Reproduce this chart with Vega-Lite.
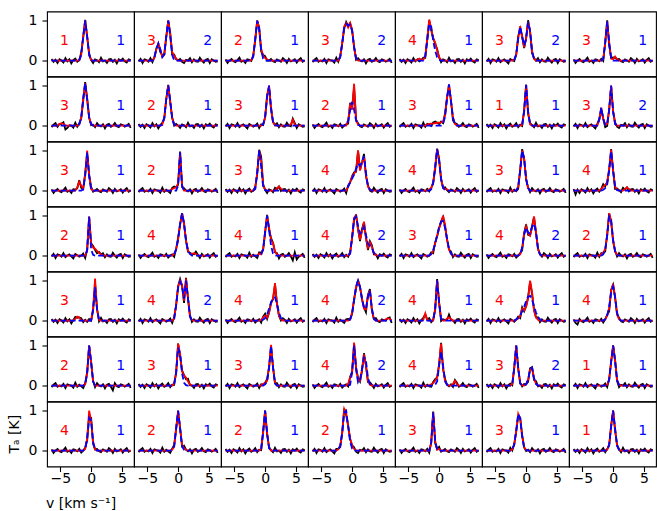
{
  "$schema": "https://vega.github.io/schema/vega-lite/v6.json",
  "padding": {"left": 8, "top": 10.5, "right": 0, "bottom": 0},
  "datasets": {
    "chan": [
      {"i": 1, "v": -6.4}, {"i": 2, "v": -6.08}, {"i": 3, "v": -5.76}, {"i": 4, "v": -5.44}, {"i": 5, "v": -5.12},
      {"i": 6, "v": -4.8}, {"i": 7, "v": -4.48}, {"i": 8, "v": -4.16}, {"i": 9, "v": -3.84}, {"i": 10, "v": -3.52},
      {"i": 11, "v": -3.2}, {"i": 12, "v": -2.88}, {"i": 13, "v": -2.56}, {"i": 14, "v": -2.24}, {"i": 15, "v": -1.92},
      {"i": 16, "v": -1.6}, {"i": 17, "v": -1.28}, {"i": 18, "v": -0.96}, {"i": 19, "v": -0.64}, {"i": 20, "v": -0.32},
      {"i": 21, "v": 0}, {"i": 22, "v": 0.32}, {"i": 23, "v": 0.64}, {"i": 24, "v": 0.96}, {"i": 25, "v": 1.28},
      {"i": 26, "v": 1.6}, {"i": 27, "v": 1.92}, {"i": 28, "v": 2.24}, {"i": 29, "v": 2.56}, {"i": 30, "v": 2.88},
      {"i": 31, "v": 3.2}, {"i": 32, "v": 3.52}, {"i": 33, "v": 3.84}, {"i": 34, "v": 4.16}, {"i": 35, "v": 4.48},
      {"i": 36, "v": 4.8}, {"i": 37, "v": 5.12}, {"i": 38, "v": 5.44}, {"i": 39, "v": 5.76}, {"i": 40, "v": 6.08},
      {"i": 41, "v": 6.4}
    ],
    "spectra": [
      {"row": 1, "col": 1, "nA": 1, "nB": 1,
       "obs": [0.04,-0.03,0.02,-0.06,0.03,0,-0.05,0.06,-0.02,0.03, -0.07,0.01,0.05,-0.03,0.01,0.2,0.57,1.02,0.58,0.18, 0.01,-0.06,0.03,0.01,-0.04,0.07,-0.02,0,-0.06,0.03, 0.04,-0.03,0.02,-0.07,0.03,0,0.05,-0.02,-0.05,0.03, 0.01],
       "fitA": [0,0,0,0,0,0,0,0,0,0, 0,0,0,0,0.01,0.14,0.61,1,0.61,0.14, 0.01,0,0,0,0,0,0,0,0,0, 0,0,0,0,0,0,0,0,0,0, 0],
       "fitB": [0,0,0,0,0,0,0,0,0,0, 0,0,0,0,0.01,0.14,0.61,1,0.61,0.14, 0.01,0,0,0,0,0,0,0,0,0, 0,0,0,0,0,0,0,0,0,0, 0]},
      {"row": 1, "col": 2, "nA": 3, "nB": 2,
       "obs": [-0.02,0.04,-0.06,0.03,0.01,-0.03,0.06,-0.04,0.08,0.31, 0.41,0.21,0.13,0.16,0.58,1,0.7,0.16,0.15,0.03, 0.01,0.04,-0.03,-0.06,0.02,0,0.06,-0.04,0.03,-0.02, -0.03,0.07,0,-0.05,0.02,0.04,-0.06,0.03,0,-0.03, -0.02],
       "fitA": [0,0,0,0,0,0,0,0,0.08,0.28, 0.43,0.28,0.09,0.15,0.61,1,0.65,0.22,0.12,0.05, 0,0,0,0,0,0,0,0,0,0, 0,0,0,0,0,0,0,0,0,0, 0],
       "fitB": [0,0,0,0,0,0,0,0,0.08,0.28, 0.43,0.28,0.09,0.15,0.61,1,0.61,0.14,0.01,0, 0,0,0,0,0,0,0,0,0,0, 0,0,0,0,0,0,0,0,0,0, 0]},
      {"row": 1, "col": 3, "nA": 2, "nB": 1,
       "obs": [0.03,-0.06,0,0.04,-0.02,-0.04,0.01,0.07,-0.03,0, -0.06,0.03,0.02,-0.01,0.14,0.5,1,0.83,0.23,0.14, 0.11,0,0,0.04,-0.02,-0.04,0.03,0,-0.03,0.06, 0.02,-0.06,0.04,-0.02,0,0.03,-0.05,0.02,0.06,-0.03, 0],
       "fitA": [0,0,0,0,0,0,0,0,0,0, 0,0,0,0.01,0.1,0.55,1,0.8,0.3,0.12, 0.06,0.03,0,0,0,0,0,0,0,0, 0,0,0,0,0,0,0,0,0,0, 0],
       "fitB": [0,0,0,0,0,0,0,0,0,0, 0,0,0,0,0.1,0.55,1,0.78,0.26,0.05, 0,0,0,0,0,0,0,0,0,0, 0,0,0,0,0,0,0,0,0,0, 0]},
      {"row": 1, "col": 4, "nA": 3, "nB": 2,
       "obs": [-0.04,0.02,0.06,-0.03,0,-0.02,0.04,-0.06,0.03,0.01, 0,-0.05,0.07,-0.03,0.12,0.43,0.8,0.97,0.87,0.94, 0.75,0.35,0.02,0.06,0,-0.02,0.03,-0.07,0.02,0.04, -0.03,0,0.06,-0.02,-0.04,0.03,0.01,-0.03,0,0.04, -0.06],
       "fitA": [0,0,0,0,0,0,0,0,0,0, 0,0,0,0,0.1,0.45,0.86,0.94,0.83,0.94, 0.78,0.33,0.06,0,0,0,0,0,0,0, 0,0,0,0,0,0,0,0,0,0, 0],
       "fitB": [0,0,0,0,0,0,0,0,0,0, 0,0,0,0,0.08,0.42,0.84,0.92,0.87,0.9, 0.75,0.33,0.06,0.01,0,0,0,0,0,0, 0,0,0,0,0,0,0,0,0,0, 0]},
      {"row": 1, "col": 5, "nA": 4, "nB": 1,
       "obs": [0.04,-0.03,0.02,-0.06,0.03,0,-0.05,0.06,-0.02,0.03, -0.02,0.01,0.07,0.07,0.55,1,0.76,0.57,0.42,0.29, 0.08,-0.04,0.03,0.01,-0.04,0.07,-0.02,0,-0.06,0.03, 0.04,-0.03,0.02,-0.07,0.03,0,0.05,-0.02,-0.05,0.03, 0.01],
       "fitA": [0,0,0,0,0,0,0,0,0,0.02, 0.05,0.02,0.02,0.1,0.55,1.03,0.8,0.55,0.45,0.25, 0.08,0.02,0,0,0,0,0,0,0,0, 0,0,0,0,0,0,0,0,0,0, 0],
       "fitB": [0,0,0,0,0,0,0,0,0,0, 0,0,0,0.12,0.5,0.92,0.85,0.5,0.25,0.08, 0.02,0,0,0,0,0,0,0,0,0, 0,0,0,0,0,0,0,0,0,0, 0]},
      {"row": 1, "col": 6, "nA": 3, "nB": 2,
       "obs": [-0.02,0.04,-0.06,0.03,0.01,-0.03,0.06,-0.04,0,0.03, -0.02,-0.07,0.04,0.01,-0.01,0.15,0.61,0.8,0.61,0.31, 0.56,1.01,0.72,0.18,0.06,0,0.06,-0.04,0.03,-0.02, -0.03,0.07,0,-0.05,0.02,0.04,-0.06,0.03,0,-0.03, -0.02],
       "fitA": [0,0,0,0,0,0,0,0,0,0, 0,0,0,0,0.02,0.15,0.56,0.86,0.58,0.33, 0.55,0.97,0.75,0.24,0.04,0,0,0,0,0, 0,0,0,0,0,0,0,0,0,0, 0],
       "fitB": [0,0,0,0,0,0,0,0,0,0, 0,0,0,0,0.02,0.15,0.55,0.85,0.6,0.38, 0.55,0.96,0.75,0.25,0.04,0,0,0,0,0, 0,0,0,0,0,0,0,0,0,0, 0]},
      {"row": 1, "col": 7, "nA": 3, "nB": 1,
       "obs": [0.03,-0.06,0,0.04,-0.02,-0.04,0.01,0.07,-0.03,0, -0.06,0.03,0.02,-0.02,0.04,-0.01,0.45,1.01,0.38,0.07, 0.08,0.07,0.03,0.04,-0.02,-0.04,0.03,0,-0.03,0.06, 0.02,-0.06,0.04,-0.02,0,0.03,-0.05,0.02,0.06,-0.03, 0],
       "fitA": [0,0,0,0,0,0,0,0,0,0, 0,0,0,0,0,0.04,0.45,0.98,0.45,0.05, 0.03,0.1,0.03,0,0,0,0,0,0,0, 0,0,0,0,0,0,0,0,0,0, 0],
       "fitB": [0,0,0,0,0,0,0,0,0,0, 0,0,0,0,0,0.04,0.45,0.98,0.45,0.05, 0,0,0,0,0,0,0,0,0,0, 0,0,0,0,0,0,0,0,0,0, 0]},
      {"row": 2, "col": 1, "nA": 3, "nB": 1,
       "obs": [-0.04,0.02,0.06,-0.03,0.04,0.04,0.08,-0.1,-0.06,0.01, 0,-0.05,0.07,-0.03,0.05,0.18,0.62,1.09,0.69,0.2, 0.01,0.02,-0.04,0.06,0,-0.02,0.03,-0.07,0.02,0.04, -0.03,0,0.06,-0.02,-0.04,0.03,0.01,-0.03,0,0.04, -0.06],
       "fitA": [0,0,0,0,0.04,0.06,0.04,0,0,0, 0,0,0,0,0.03,0.2,0.68,1.06,0.65,0.2, 0.04,0,0,0,0,0,0,0,0,0, 0,0,0,0,0,0,0,0,0,0, 0],
       "fitB": [0,0,0,0,0,0,0,0,0,0, 0,0,0,0,0.03,0.2,0.68,1.06,0.65,0.2, 0.04,0,0,0,0,0,0,0,0,0, 0,0,0,0,0,0,0,0,0,0, 0]},
      {"row": 2, "col": 2, "nA": 2, "nB": 1,
       "obs": [0.04,-0.03,0.02,-0.06,0.03,0,-0.05,0.06,-0.02,0.03, -0.07,0.01,0.07,0.17,0.66,1.02,0.58,0.2,0,0.04, 0,-0.06,0.03,0.01,-0.04,0.07,-0.02,0,-0.06,0.03, 0.04,-0.03,0.02,-0.07,0.03,0,0.05,-0.02,-0.05,0.03, 0.01],
       "fitA": [0,0,0,0,0,0,0,0,0,0, 0,0,0.02,0.2,0.66,1,0.62,0.18,0.03,0, 0,0,0,0,0,0,0,0,0,0, 0,0,0,0,0,0,0,0,0,0, 0],
       "fitB": [0,0,0,0,0,0,0,0,0,0, 0,0,0.02,0.2,0.66,1,0.62,0.18,0.03,0, 0,0,0,0,0,0,0,0,0,0, 0,0,0,0,0,0,0,0,0,0, 0]},
      {"row": 2, "col": 3, "nA": 3, "nB": 1,
       "obs": [-0.02,0.04,-0.06,0.03,0.01,-0.03,0.06,-0.04,0,0.03, -0.02,-0.07,0.04,0.01,-0.03,0,0.05,-0.06,0.03,0.01, 0.21,0.76,0.97,0.39,0.1,0.01,0.06,-0.04,0.03,-0.02, -0.03,0.07,0,-0.02,0.17,0.06,-0.06,0.03,0,-0.03, -0.02],
       "fitA": [0,0,0,0,0,0,0,0,0,0, 0,0,0,0,0,0,0,0,0,0.03, 0.2,0.72,1,0.45,0.08,0.01,0,0,0,0, 0,0,0,0.03,0.15,0.02,0,0,0,0, 0],
       "fitB": [0,0,0,0,0,0,0,0,0,0, 0,0,0,0,0,0,0,0,0,0.03, 0.2,0.72,1,0.45,0.08,0.01,0,0,0,0, 0,0,0,0,0,0,0,0,0,0, 0]},
      {"row": 2, "col": 4, "nA": 2, "nB": 1,
       "obs": [0.03,-0.06,0,0.04,-0.02,-0.04,0.01,0.07,-0.03,0, -0.06,0.03,0.02,-0.02,0.04,-0.05,0,0.03,0.05,0.57, 0.45,0.95,0.15,0.06,-0.02,-0.04,0.03,0,-0.03,0.06, 0.02,-0.06,0.04,-0.02,0,0.03,-0.05,0.02,0.06,-0.03, 0],
       "fitA": [0,0,0,0,0,0,0,0,0,0, 0,0,0,0,0,0,0,0,0.12,0.55, 0.4,1.05,0.15,0.02,0,0,0,0,0,0, 0,0,0,0,0,0,0,0,0,0, 0],
       "fitB": [0,0,0,0,0,0,0,0,0,0, 0,0,0,0,0,0,0,0.02,0.12,0.38, 0.59,0.4,0.12,0.02,0,0,0,0,0,0, 0,0,0,0,0,0,0,0,0,0, 0]},
      {"row": 2, "col": 5, "nA": 3, "nB": 1,
       "obs": [-0.04,0.02,0.06,-0.03,0,-0.02,0.04,-0.06,0.03,0.01, 0,-0.05,0.07,-0.03,0.04,0.02,-0.01,0.08,0.1,0.07, 0.04,0.1,0.06,0.31,0.7,1.01,0.63,0.13,0.06,0.04, -0.03,0,0.06,-0.02,-0.04,0.03,0.01,-0.03,0,0.04, -0.06],
       "fitA": [0,0,0,0,0,0,0,0,0,0, 0,0,0,0,0.02,0.04,0.05,0.05,0.06,0.07, 0.07,0.08,0.1,0.25,0.7,1.03,0.6,0.2,0.04,0, 0,0,0,0,0,0,0,0,0,0, 0],
       "fitB": [0,0,0,0,0,0,0,0,0,0, 0,0,0,0,0,0,0,0,0,0, 0,0,0.04,0.22,0.68,1.03,0.62,0.2,0.04,0, 0,0,0,0,0,0,0,0,0,0, 0]},
      {"row": 2, "col": 6, "nA": 1, "nB": 1,
       "obs": [0.04,-0.03,0.02,-0.06,0.03,0,-0.05,0.06,-0.02,0.03, -0.07,0.01,0.05,-0.03,0,0.06,-0.04,0.02,-0.01,0.39, 1.02,0.29,0.06,0.01,-0.04,0.07,-0.02,0,-0.06,0.03, 0.04,-0.03,0.02,-0.07,0.03,0,0.05,-0.02,-0.05,0.03, 0.01],
       "fitA": [0,0,0,0,0,0,0,0,0,0, 0,0,0,0,0,0,0,0,0.02,0.35, 1.02,0.35,0.03,0,0,0,0,0,0,0, 0,0,0,0,0,0,0,0,0,0, 0],
       "fitB": [0,0,0,0,0,0,0,0,0,0, 0,0,0,0,0,0,0,0,0.02,0.35, 1.02,0.35,0.03,0,0,0,0,0,0,0, 0,0,0,0,0,0,0,0,0,0, 0]},
      {"row": 2, "col": 7, "nA": 3, "nB": 2,
       "obs": [-0.02,0.04,-0.06,0.03,0.01,-0.03,0.06,-0.04,0,0.03, -0.02,-0.07,0.04,0.16,0.42,0.17,-0.04,-0.01,0.41,0.98, 0.36,0.08,-0.03,-0.06,0.02,0,0.06,-0.04,0.03,-0.02, -0.03,0.07,0,-0.05,0.02,0.04,-0.06,0.03,0,-0.03, -0.02],
       "fitA": [0,0,0,0,0,0,0,0,0,0, 0,0,0,0.15,0.45,0.17,0.03,0.05,0.38,1, 0.35,0.04,0,0,0,0,0,0,0,0, 0,0,0,0,0,0,0,0,0,0, 0],
       "fitB": [0,0,0,0,0,0,0,0,0,0, 0,0,0,0.15,0.45,0.17,0.02,0.04,0.38,1, 0.35,0.04,0,0,0,0,0,0,0,0, 0,0,0,0,0,0,0,0,0,0, 0]},
      {"row": 3, "col": 1, "nA": 3, "nB": 1,
       "obs": [0.03,-0.06,0,0.04,-0.02,-0.04,0.01,0.07,-0.03,0, -0.06,0.03,0.02,0.06,0.26,0.07,0.05,0.43,0.93,0.4, 0.09,-0.03,0,0.04,-0.02,-0.04,0.03,0,-0.03,0.06, 0.02,-0.06,0.04,-0.02,0,0.03,-0.05,0.02,0.06,-0.03, 0],
       "fitA": [0,0,0,0,0,0,0,0,0,0, 0,0,0,0.08,0.22,0.12,0.05,0.4,1,0.38, 0.04,0,0,0,0,0,0,0,0,0, 0,0,0,0,0,0,0,0,0,0, 0],
       "fitB": [0,0,0,0,0,0,0,0,0,0, 0,0,0,0,0,0,0.03,0.37,0.95,0.36, 0.03,0,0,0,0,0,0,0,0,0, 0,0,0,0,0,0,0,0,0,0, 0]},
      {"row": 3, "col": 2, "nA": 2, "nB": 1,
       "obs": [-0.04,0.02,0.06,-0.03,0,-0.02,0.04,-0.06,0.03,0.01, 0,-0.05,0.07,-0.03,0.02,-0.02,-0.06,0.07,0.1,0.08, 0.15,0.98,0.09,0.06,0,-0.02,0.03,-0.07,0.02,0.04, -0.03,0,0.06,-0.02,-0.04,0.03,0.01,-0.03,0,0.04, -0.06],
       "fitA": [0,0,0,0,0,0,0,0,0,0, 0,0,0,0,0,0,0,0.04,0.06,0.08, 0.18,0.96,0.13,0,0,0,0,0,0,0, 0,0,0,0,0,0,0,0,0,0, 0],
       "fitB": [0,0,0,0,0,0,0,0,0,0, 0,0,0,0,0,0,0,0,0,0, 0.12,0.96,0.12,0,0,0,0,0,0,0, 0,0,0,0,0,0,0,0,0,0, 0]},
      {"row": 3, "col": 3, "nA": 3, "nB": 1,
       "obs": [0.04,-0.03,0.02,-0.06,0.03,0,-0.05,0.06,-0.02,0.03, -0.07,0.01,0.05,-0.03,0,0.1,0.41,1.02,0.85,0.16, 0.02,-0.06,0.03,0.01,-0.04,0.07,0.04,0.1,-0.01,0.03, 0.04,-0.03,0.02,-0.07,0.03,0,0.05,-0.02,-0.05,0.03, 0.01],
       "fitA": [0,0,0,0,0,0,0,0,0,0, 0,0,0,0,0,0.04,0.45,1,0.75,0.12, 0.02,0,0,0,0,0,0.06,0.1,0.05,0, 0,0,0,0,0,0,0,0,0,0, 0],
       "fitB": [0,0,0,0,0,0,0,0,0,0, 0,0,0,0,0,0.04,0.45,1,0.6,0.08, 0.01,0,0,0,0,0,0,0,0,0, 0,0,0,0,0,0,0,0,0,0, 0]},
      {"row": 3, "col": 4, "nA": 4, "nB": 2,
       "obs": [-0.02,0.04,-0.06,0.03,0.01,-0.03,0.06,-0.04,0,0.03, -0.02,-0.07,0.04,0.01,-0.03,0,0.05,-0.06,0.13,0.2, 0.36,0.46,0.47,1,0.52,0.7,0.92,0.36,0.13,0, -0.03,0.07,0,-0.05,0.02,0.04,-0.06,0.03,0,-0.03, -0.02],
       "fitA": [0,0,0,0,0,0,0,0,0,0, 0,0,0,0,0,0,0,0,0.1,0.22, 0.35,0.42,0.5,1,0.5,0.7,0.86,0.4,0.1,0.02, 0,0,0,0,0,0,0,0,0,0, 0],
       "fitB": [0,0,0,0,0,0,0,0,0,0, 0,0,0,0,0,0,0,0.03,0.1,0.2, 0.3,0.4,0.55,0.68,0.62,0.72,0.86,0.45,0.12,0.03, 0,0,0,0,0,0,0,0,0,0, 0]},
      {"row": 3, "col": 5, "nA": 4, "nB": 1,
       "obs": [0.03,-0.06,0,0.04,-0.02,-0.04,0.01,0.07,-0.03,0, -0.06,0.03,0.02,-0.02,0.04,-0.02,0.06,0.21,0.53,1.05, 0.8,0.27,0.07,0.08,0.01,-0.04,0.03,0,-0.03,0.06, 0.02,-0.06,0.04,-0.02,0,0.03,-0.05,0.02,0.06,-0.03, 0],
       "fitA": [0,0,0,0,0,0,0,0,0,0, 0,0,0,0,0,0.03,0.06,0.18,0.6,1.03, 0.75,0.3,0.07,0.04,0.03,0,0,0,0,0, 0,0,0,0,0,0,0,0,0,0, 0],
       "fitB": [0,0,0,0,0,0,0,0,0,0, 0,0,0,0,0,0,0.03,0.18,0.6,1.03, 0.75,0.3,0.07,0.01,0,0,0,0,0,0, 0,0,0,0,0,0,0,0,0,0, 0]},
      {"row": 3, "col": 6, "nA": 3, "nB": 1,
       "obs": [-0.04,0.02,0.06,-0.03,0,-0.02,0.04,-0.06,0.03,0.01, 0,-0.05,0.07,-0.03,0.02,-0.02,0.04,0.53,1.04,0.8, 0.27,0.08,-0.04,0.06,0,-0.02,0.03,-0.07,0.02,0.04, -0.03,0,0.06,-0.02,-0.04,0.03,0.01,-0.03,0,0.04, -0.06],
       "fitA": [0,0,0,0,0,0,0,0,0,0, 0,0,0,0,0,0,0.1,0.5,1,0.8, 0.3,0.06,0,0,0,0,0,0,0,0, 0,0,0,0,0,0,0,0,0,0, 0],
       "fitB": [0,0,0,0,0,0,0,0,0,0, 0,0,0,0,0,0,0.1,0.5,1,0.8, 0.3,0.06,0,0,0,0,0,0,0,0, 0,0,0,0,0,0,0,0,0,0, 0]},
      {"row": 3, "col": 7, "nA": 4, "nB": 1,
       "obs": [0.04,-0.1,0.02,-0.06,0.03,0,-0.05,0.06,-0.02,0.03, -0.07,0.01,0.05,-0.03,0.04,0.16,0.1,0.22,0.52,1.04, 0.5,0.04,0.05,0.01,-0.04,0.07,0.02,0.08,-0.02,0.03, 0.04,-0.03,0.02,-0.07,0.03,0,0.05,-0.02,-0.05,0.03, 0.01],
       "fitA": [0,0,0,0,0,0,0,0,0,0, 0,0,0,0,0.04,0.1,0.14,0.2,0.55,1.02, 0.5,0.1,0.02,0,0,0,0.04,0.08,0.04,0, 0,0,0,0,0,0,0,0,0,0, 0],
       "fitB": [0,0,0,0,0,0,0,0,0,0, 0,0,0,0,0,0.02,0.06,0.15,0.5,0.98, 0.5,0.1,0.01,0,0,0,0,0,0,0, 0,0,0,0,0,0,0,0,0,0, 0]},
      {"row": 4, "col": 1, "nA": 2, "nB": 1,
       "obs": [-0.02,0.04,-0.06,0.03,0.01,-0.03,0.06,-0.04,0,0.03, -0.02,-0.07,0.04,0.01,-0.03,0,0.05,-0.06,0.15,0.96, 0.31,0.24,0.14,0.06,0.09,0.03,0.06,-0.04,0.03,-0.02, -0.03,0.07,0,-0.05,0.02,0.04,-0.06,0.03,0,-0.03, -0.02],
       "fitA": [0,0,0,0,0,0,0,0,0,0, 0,0,0,0,0,0,0,0,0.12,0.98, 0.3,0.2,0.17,0.12,0.07,0.03,0,0,0,0, 0,0,0,0,0,0,0,0,0,0, 0],
       "fitB": [0,0,0,0,0,0,0,0,0,0, 0,0,0,0,0,0,0,0,0.13,0.98, 0.15,0.02,0,0,0,0,0,0,0,0, 0,0,0,0,0,0,0,0,0,0, 0]},
      {"row": 4, "col": 2, "nA": 4, "nB": 1,
       "obs": [0.03,-0.06,0,0.04,-0.02,-0.04,0.01,0.07,-0.03,0, -0.06,0.03,0.02,-0.02,0.04,-0.05,0,0.03,-0.03,0.17, 0.45,0.77,1.06,0.82,0.36,0.09,0.07,0.04,0.03,0.1, 0.02,-0.06,0.04,-0.02,0,0.03,-0.05,0.02,0.06,-0.03, 0],
       "fitA": [0,0,0,0,0,0,0,0,0,0, 0,0,0,0,0,0,0,0,0.04,0.15, 0.4,0.8,1.06,0.78,0.38,0.13,0.04,0.04,0.06,0.04, 0,0,0,0,0,0,0,0,0,0, 0],
       "fitB": [0,0,0,0,0,0,0,0,0,0, 0,0,0,0,0,0,0,0,0.04,0.15, 0.4,0.8,1.06,0.78,0.38,0.13,0.04,0,0,0, 0,0,0,0,0,0,0,0,0,0, 0]},
      {"row": 4, "col": 3, "nA": 4, "nB": 1,
       "obs": [-0.04,0.02,0.06,-0.03,0,-0.02,0.04,-0.06,0.03,0.01, 0,-0.05,0.07,-0.03,0.02,-0.02,-0.06,0.08,0.07,0.15, 0.57,1.02,0.66,0.44,0.32,0.08,0.06,-0.07,0.02,0.04, -0.03,0,0.06,-0.02,-0.12,0.08,-0.1,-0.03,0,0.04, -0.06],
       "fitA": [0,0,0,0,0,0,0,0,0,0, 0,0,0,0,0,0,0,0.05,0.03,0.15, 0.6,1,0.7,0.38,0.32,0.1,0.03,0,0,0, 0,0,0,0,0,0,0,0,0,0, 0],
       "fitB": [0,0,0,0,0,0,0,0,0,0, 0,0,0,0,0,0,0,0,0.02,0.15, 0.6,1,0.65,0.25,0.05,0,0,0,0,0, 0,0,0,0,0,0,0,0,0,0, 0]},
      {"row": 4, "col": 4, "nA": 4, "nB": 2,
       "obs": [0.04,-0.03,0.02,-0.06,0.03,0,-0.05,0.06,-0.02,0.03, -0.07,0.01,0.05,-0.03,0,0.06,-0.04,0.02,-0.03,0.09, 0.45,0.89,1.03,0.66,0.36,0.67,0.83,0.45,0.14,0.36, 0.26,0.03,0.03,-0.07,0.03,0,0.05,-0.02,-0.05,0.03, 0.01],
       "fitA": [0,0,0,0,0,0,0,0,0,0, 0,0,0,0,0,0,0,0,0,0.05, 0.45,0.95,1,0.65,0.4,0.6,0.85,0.45,0.2,0.33, 0.22,0.06,0.01,0,0,0,0,0,0,0, 0],
       "fitB": [0,0,0,0,0,0,0,0,0,0, 0,0,0,0,0,0,0,0,0,0.05, 0.45,0.92,0.98,0.75,0.55,0.6,0.72,0.52,0.3,0.25, 0.18,0.07,0.02,0,0,0,0,0,0,0, 0]},
      {"row": 4, "col": 5, "nA": 3, "nB": 1,
       "obs": [-0.02,0.04,-0.06,0.03,0.01,-0.03,0.06,-0.04,0,0.03, -0.02,-0.07,0.04,0.01,-0.03,0,0.08,0.06,0.33,0.48, 0.69,0.86,0.97,0.72,0.42,0.15,0.1,-0.04,0.03,-0.02, -0.03,0.07,0,-0.05,0.02,0.04,-0.06,0.03,0,-0.03, -0.02],
       "fitA": [0,0,0,0,0,0,0,0,0,0, 0,0,0,0,0,0,0.03,0.12,0.3,0.5, 0.68,0.82,1,0.78,0.4,0.15,0.04,0,0,0, 0,0,0,0,0,0,0,0,0,0, 0],
       "fitB": [0,0,0,0,0,0,0,0,0,0, 0,0,0,0,0,0,0.04,0.13,0.3,0.52, 0.72,0.85,0.87,0.7,0.42,0.17,0.05,0,0,0, 0,0,0,0,0,0,0,0,0,0, 0]},
      {"row": 4, "col": 6, "nA": 4, "nB": 2,
       "obs": [0.03,-0.06,0,0.04,-0.02,-0.04,0.01,0.07,-0.03,0, -0.06,0.03,0.02,-0.02,0.04,-0.05,0,0.06,0.13,0.57, 0.78,0.52,0.5,0.74,0.96,0.56,0.18,0.03,-0.03,0.06, 0.02,-0.06,0.04,-0.02,0,0.03,-0.05,0.02,0.06,-0.03, 0],
       "fitA": [0,0,0,0,0,0,0,0,0,0, 0,0,0,0,0,0,0,0.03,0.2,0.55, 0.73,0.55,0.5,0.7,0.98,0.6,0.15,0.03,0,0, 0,0,0,0,0,0,0,0,0,0, 0],
       "fitB": [0,0,0,0,0,0,0,0,0,0, 0,0,0,0,0,0,0,0.03,0.2,0.52, 0.7,0.58,0.55,0.72,0.8,0.58,0.18,0.03,0,0, 0,0,0,0,0,0,0,0,0,0, 0]},
      {"row": 4, "col": 7, "nA": 2, "nB": 1,
       "obs": [-0.04,0.02,0.06,-0.03,0,-0.02,0.04,-0.06,0.03,0.01, 0,-0.05,0.07,-0.03,0.06,0.06,0.1,0.53,1.06,0.85, 0.35,0.12,-0.02,0.06,0,-0.02,0.03,-0.07,0.02,0.04, -0.03,0,0.06,-0.02,-0.04,0.03,0.01,-0.03,0,0.04, -0.06],
       "fitA": [0,0,0,0,0,0,0,0,0,0, 0,0,0,0,0.04,0.08,0.16,0.5,1.06,0.85, 0.38,0.1,0.02,0,0,0,0,0,0,0, 0,0,0,0,0,0,0,0,0,0, 0],
       "fitB": [0,0,0,0,0,0,0,0,0,0, 0,0,0,0,0,0.03,0.15,0.5,0.98,0.9, 0.4,0.1,0.02,0,0,0,0,0,0,0, 0,0,0,0,0,0,0,0,0,0, 0]},
      {"row": 5, "col": 1, "nA": 3, "nB": 1,
       "obs": [0.04,-0.03,0.02,-0.06,0.03,0,-0.05,0.06,-0.02,0.03, -0.07,0.01,0.09,0.07,0.08,0.06,-0.04,0.02,-0.03,0.04, 0,0.24,0.92,0.29,-0.02,0.07,-0.02,0,-0.06,0.03, 0.04,-0.03,0.02,-0.07,0.03,0,0.05,-0.02,-0.05,0.03, 0.01],
       "fitA": [0,0,0,0,0,0,0,0,0,0, 0,0,0.04,0.1,0.08,0,0,0,0,0, 0,0.3,1.05,0.28,0.02,0,0,0,0,0, 0,0,0,0,0,0,0,0,0,0, 0],
       "fitB": [0,0,0,0,0,0,0,0,0,0, 0,0,0,0,0,0,0,0,0,0, 0,0.28,0.83,0.27,0.02,0,0,0,0,0, 0,0,0,0,0,0,0,0,0,0, 0]},
      {"row": 5, "col": 2, "nA": 4, "nB": 2,
       "obs": [-0.02,0.04,-0.06,0.03,0.01,-0.03,0.06,-0.04,0,0.03, -0.02,-0.07,0.04,0.01,-0.03,0,0.05,-0.06,0.08,0.38, 0.86,1.04,0.87,0.44,1.07,0.55,0.14,-0.03,0.03,-0.02, -0.03,0.07,0,-0.05,0.02,0.04,-0.06,0.03,0,-0.03, -0.02],
       "fitA": [0,0,0,0,0,0,0,0,0,0, 0,0,0,0,0,0,0,0,0.05,0.4, 0.85,1,0.9,0.5,1.05,0.55,0.08,0.01,0,0, 0,0,0,0,0,0,0,0,0,0, 0],
       "fitB": [0,0,0,0,0,0,0,0,0,0, 0,0,0,0,0,0,0,0,0.05,0.38, 0.82,0.98,0.85,0.55,1,0.55,0.1,0.01,0,0, 0,0,0,0,0,0,0,0,0,0, 0]},
      {"row": 5, "col": 3, "nA": 4, "nB": 1,
       "obs": [0.03,-0.06,0,0.04,-0.02,-0.04,0.01,0.07,-0.03,0, -0.06,0.03,0.02,-0.02,0.04,-0.05,0,0.03,-0.05,0.1, 0.17,0.04,0.2,0.46,0.53,0.9,0.43,0.12,0,0.06, 0.02,-0.06,0.04,-0.02,0,0.03,-0.05,0.02,0.06,-0.03, 0],
       "fitA": [0,0,0,0,0,0,0,0,0,0, 0,0,0,0,0,0,0,0,0.02,0.08, 0.12,0.07,0.2,0.42,0.55,0.94,0.4,0.12,0.03,0, 0,0,0,0,0,0,0,0,0,0, 0],
       "fitB": [0,0,0,0,0,0,0,0,0,0, 0,0,0,0,0,0,0,0,0,0.02, 0.06,0.15,0.3,0.45,0.56,0.58,0.42,0.2,0.06,0.01, 0,0,0,0,0,0,0,0,0,0, 0]},
      {"row": 5, "col": 4, "nA": 4, "nB": 2,
       "obs": [-0.04,0.02,0.06,-0.03,0,-0.02,0.04,-0.06,0.03,0.01, 0,-0.05,0.07,-0.03,0.02,-0.02,-0.06,0.03,0.04,0.03, 0.17,0.54,0.81,1.02,0.83,0.53,0.33,0.21,0.64,0.79, 0.25,0.04,0.06,-0.02,-0.04,0.03,0.01,0,0.06,0.08, -0.06],
       "fitA": [0,0,0,0,0,0,0,0,0,0, 0,0,0,0,0,0,0,0,0,0.03, 0.2,0.52,0.85,1,0.83,0.55,0.3,0.28,0.62,0.75, 0.28,0.04,0,0,0,0,0,0.03,0.06,0.04, 0],
       "fitB": [0,0,0,0,0,0,0,0,0,0, 0,0,0,0,0,0,0,0,0,0.03, 0.18,0.5,0.85,1,0.85,0.55,0.32,0.3,0.6,0.75, 0.3,0.05,0,0,0,0,0,0,0,0, 0]},
      {"row": 5, "col": 5, "nA": 4, "nB": 1,
       "obs": [0.04,-0.03,0.02,-0.06,0.03,0,-0.05,0.06,-0.02,0.03, -0.07,0.01,0.07,0.15,0.02,0.06,-0.04,0.02,0.27,1.04, 0.45,-0.01,0.03,0.01,0.01,0.15,0.02,0,-0.06,0.03, 0.04,-0.03,0.02,-0.07,0.03,0,0.05,-0.02,-0.05,0.03, 0.01],
       "fitA": [0,0,0,0,0,0,0,0,0,0, 0,0,0.02,0.18,0.02,0,0,0,0.3,1, 0.45,0.05,0,0,0.05,0.08,0.04,0,0,0, 0,0,0,0,0,0,0,0,0,0, 0],
       "fitB": [0,0,0,0,0,0,0,0,0,0, 0,0,0,0,0,0,0,0,0.3,1, 0.45,0.05,0,0,0,0,0,0,0,0, 0,0,0,0,0,0,0,0,0,0, 0]},
      {"row": 5, "col": 6, "nA": 4, "nB": 1,
       "obs": [-0.02,0.04,-0.06,0.03,0.01,-0.03,0.06,-0.04,0,0.03, -0.02,-0.07,0.04,0.01,-0.03,0.02,0.1,0.06,0.33,0.23, 0.36,0.59,0.97,0.66,0.27,0.08,0.08,-0.04,0.03,-0.02, -0.03,0.07,0,-0.05,0.02,0.04,-0.06,0.03,0,-0.03, -0.02],
       "fitA": [0,0,0,0,0,0,0,0,0,0, 0,0,0,0,0,0.02,0.05,0.12,0.3,0.25, 0.35,0.55,1,0.72,0.25,0.08,0.02,0,0,0, 0,0,0,0,0,0,0,0,0,0, 0],
       "fitB": [0,0,0,0,0,0,0,0,0,0, 0,0,0,0,0,0.03,0.07,0.13,0.23,0.35, 0.48,0.6,0.62,0.52,0.36,0.2,0.09,0.03,0,0, 0,0,0,0,0,0,0,0,0,0, 0]},
      {"row": 5, "col": 7, "nA": 4, "nB": 1,
       "obs": [0.03,-0.06,-0.1,0.04,-0.02,-0.04,0.01,0.07,-0.03,0, -0.06,0.03,0.02,-0.02,0.04,-0.05,0.03,0.15,0.23,0.77, 0.9,0.57,0.15,0.07,-0.02,-0.04,0.03,0,-0.03,0.06, 0.02,-0.06,0.04,-0.02,0,0.03,-0.05,0.02,0.06,-0.03, 0],
       "fitA": [0,0,0,0,0,0,0,0,0,0, 0,0,0,0,0,0,0.03,0.12,0.3,0.75, 0.92,0.6,0.15,0.03,0,0,0,0,0,0, 0,0,0,0,0,0,0,0,0,0, 0],
       "fitB": [0,0,0,0,0,0,0,0,0,0, 0,0,0,0,0,0,0.03,0.12,0.35,0.7, 0.85,0.6,0.2,0.04,0,0,0,0,0,0, 0,0,0,0,0,0,0,0,0,0, 0]},
      {"row": 6, "col": 1, "nA": 2, "nB": 1,
       "obs": [-0.04,0.02,0.06,-0.03,0,-0.02,0.04,-0.06,0.03,0.01, 0,-0.05,0.07,-0.03,0.02,-0.02,-0.06,0.06,0.34,1, 0.57,0.12,-0.04,0.06,0,-0.02,0.03,-0.07,0.02,0.04, -0.03,-0.12,0.06,-0.02,-0.04,0.03,0.01,-0.03,0,0.04, -0.06],
       "fitA": [0,0,0,0,0,0,0,0,0,0, 0,0,0,0,0,0,0,0.03,0.3,1, 0.6,0.1,0,0,0,0,0,0,0,0, 0,0,0,0,0,0,0,0,0,0, 0],
       "fitB": [0,0,0,0,0,0,0,0,0,0, 0,0,0,0,0,0,0,0.03,0.3,1, 0.6,0.1,0,0,0,0,0,0,0,0, 0,0,0,0,0,0,0,0,0,0, 0]},
      {"row": 6, "col": 2, "nA": 3, "nB": 1,
       "obs": [0.04,-0.03,0.02,-0.06,0.03,0,-0.05,0.06,-0.02,0.03, -0.07,0.01,0.05,-0.03,0,0.06,-0.04,0.02,0.02,0.34, 1.05,0.74,0.38,0.26,0.16,0.17,0.01,0,-0.06,0.03, 0.04,-0.03,0.02,-0.07,0.03,0,0.05,-0.02,-0.05,0.03, 0.01],
       "fitA": [0,0,0,0,0,0,0,0,0,0, 0,0,0,0,0,0,0,0,0.05,0.3, 1.05,0.8,0.35,0.25,0.2,0.1,0.03,0,0,0, 0,0,0,0,0,0,0,0,0,0, 0],
       "fitB": [0,0,0,0,0,0,0,0,0,0, 0,0,0,0,0,0,0,0,0.05,0.32, 0.95,0.8,0.3,0.07,0.01,0,0,0,0,0, 0,0,0,0,0,0,0,0,0,0, 0]},
      {"row": 6, "col": 3, "nA": 3, "nB": 1,
       "obs": [-0.02,0.04,-0.06,0.03,0.01,-0.03,0.06,-0.04,0,0.03, -0.02,-0.07,0.04,0.01,-0.03,0,0.05,-0.06,0.03,0.02, 0.07,0.16,0.45,0.96,0.47,0.06,0.06,-0.04,0.03,-0.02, -0.03,0.07,0,-0.05,0.02,0.04,-0.06,0.03,0,-0.03, -0.02],
       "fitA": [0,0,0,0,0,0,0,0,0,0, 0,0,0,0,0,0,0,0,0,0.04, 0.06,0.12,0.48,1.02,0.45,0.06,0,0,0,0, 0,0,0,0,0,0,0,0,0,0, 0],
       "fitB": [0,0,0,0,0,0,0,0,0,0, 0,0,0,0,0,0,0,0,0,0, 0.03,0.1,0.45,1,0.45,0.05,0,0,0,0, 0,0,0,0,0,0,0,0,0,0, 0]},
      {"row": 6, "col": 4, "nA": 4, "nB": 2,
       "obs": [0.03,-0.06,0,0.04,-0.02,-0.04,0.01,0.07,-0.03,0, -0.06,0.03,0.02,-0.02,0.04,-0.05,0,0.03,-0.02,0.22, 0.35,1.05,0.45,0.19,0.1,0.36,0.81,0.5,0.09,0.08, 0.02,-0.06,0.04,-0.02,0,0.03,-0.05,0.02,0.06,-0.03, 0],
       "fitA": [0,0,0,0,0,0,0,0,0,0, 0,0,0,0,0,0,0,0,0.05,0.2, 0.3,1.08,0.45,0.15,0.12,0.4,0.78,0.5,0.12,0.02, 0,0,0,0,0,0,0,0,0,0, 0],
       "fitB": [0,0,0,0,0,0,0,0,0,0, 0,0,0,0,0,0,0,0,0,0.02, 0.35,1,0.4,0.08,0.15,0.42,0.7,0.62,0.2,0.04, 0,0,0,0,0,0,0,0,0,0, 0]},
      {"row": 6, "col": 5, "nA": 4, "nB": 1,
       "obs": [-0.04,0.02,0.06,-0.03,0,-0.02,0.04,-0.06,0.03,0.01, 0,-0.05,0.07,-0.03,0.02,-0.02,-0.03,0.09,0.16,0.2, 0.52,1.07,0.41,0.16,0.02,-0.02,0.03,-0.03,0.14,0.07, -0.03,0,0.06,-0.02,-0.04,0.03,0.01,-0.03,0,0.04, -0.06],
       "fitA": [0,0,0,0,0,0,0,0,0,0, 0,0,0,0,0,0,0.03,0.06,0.12,0.2, 0.55,1.05,0.45,0.1,0.02,0,0,0.04,0.12,0.03, 0,0,0,0,0,0,0,0,0,0, 0],
       "fitB": [0,0,0,0,0,0,0,0,0,0, 0,0,0,0,0,0,0,0,0.02,0.1, 0.5,0.85,0.5,0.12,0.02,0,0,0,0,0, 0,0,0,0,0,0,0,0,0,0, 0]},
      {"row": 6, "col": 6, "nA": 3, "nB": 2,
       "obs": [0.04,-0.03,0.02,-0.06,0.03,0,-0.05,0.06,-0.02,0.03, -0.07,0.01,0.05,0.01,0.45,1,0.41,0.07,-0.02,0.04, 0.03,0.09,0.43,0.46,0.14,0.11,-0.02,0,-0.06,0.03, 0.04,-0.03,0.02,-0.07,0.03,0,0.05,-0.02,-0.05,0.03, 0.01],
       "fitA": [0,0,0,0,0,0,0,0,0,0, 0,0,0,0.04,0.45,1,0.45,0.05,0.01,0, 0.03,0.15,0.4,0.45,0.18,0.04,0,0,0,0, 0,0,0,0,0,0,0,0,0,0, 0],
       "fitB": [0,0,0,0,0,0,0,0,0,0, 0,0,0,0.04,0.45,1,0.45,0.05,0.01,0, 0.03,0.15,0.4,0.45,0.18,0.04,0,0,0,0, 0,0,0,0,0,0,0,0,0,0, 0]},
      {"row": 6, "col": 7, "nA": 1, "nB": 1,
       "obs": [-0.02,0.04,-0.06,0.03,0.01,-0.03,0.06,-0.04,0,0.03, -0.02,-0.07,0.04,0.01,-0.03,0,0.05,-0.04,0.17,0.59, 1.01,0.65,0.11,-0.04,0.02,0,0.06,-0.04,0.03,-0.02, -0.03,0.07,0,-0.05,0.02,0.04,-0.06,0.03,0,-0.03, -0.02],
       "fitA": [0,0,0,0,0,0,0,0,0,0, 0,0,0,0,0,0,0,0.02,0.14,0.61, 1,0.61,0.14,0.02,0,0,0,0,0,0, 0,0,0,0,0,0,0,0,0,0, 0],
       "fitB": [0,0,0,0,0,0,0,0,0,0, 0,0,0,0,0,0,0,0.02,0.14,0.61, 1,0.61,0.14,0.02,0,0,0,0,0,0, 0,0,0,0,0,0,0,0,0,0, 0]},
      {"row": 7, "col": 1, "nA": 4, "nB": 1,
       "obs": [0.03,-0.06,0,0.04,-0.02,-0.04,0.01,0.07,-0.03,0, -0.06,0.03,0.02,-0.02,0.04,-0.05,0,0.07,0.25,0.85, 0.82,0.17,0.03,0.04,-0.02,-0.04,0.03,0,-0.03,0.06, 0.02,-0.06,0.04,-0.02,0,0.03,-0.05,0.02,0.06,-0.03, 0],
       "fitA": [0,0,0,0,0,0,0,0,0,0, 0,0,0,0,0,0,0,0.04,0.3,1, 0.75,0.2,0.03,0,0,0,0,0,0,0, 0,0,0,0,0,0,0,0,0,0, 0],
       "fitB": [0,0,0,0,0,0,0,0,0,0, 0,0,0,0,0,0,0,0.04,0.32,0.82, 0.75,0.22,0.03,0,0,0,0,0,0,0, 0,0,0,0,0,0,0,0,0,0, 0]},
      {"row": 7, "col": 2, "nA": 2, "nB": 1,
       "obs": [-0.04,0.02,0.06,-0.03,0,-0.02,0.04,-0.06,0.03,0.01, 0,-0.05,0.07,-0.03,0.02,-0.02,-0.06,0.05,0.14,0.55, 0.97,0.57,0.1,0.12,0.02,-0.02,0.03,-0.07,0.02,0.04, -0.03,0,0.06,-0.02,-0.04,0.03,0.01,-0.03,0,0.04, -0.06],
       "fitA": [0,0,0,0,0,0,0,0,0,0, 0,0,0,0,0,0,0,0.02,0.1,0.55, 1,0.55,0.14,0.06,0.02,0,0,0,0,0, 0,0,0,0,0,0,0,0,0,0, 0],
       "fitB": [0,0,0,0,0,0,0,0,0,0, 0,0,0,0,0,0,0,0.02,0.1,0.55, 1,0.55,0.1,0.02,0,0,0,0,0,0, 0,0,0,0,0,0,0,0,0,0, 0]},
      {"row": 7, "col": 3, "nA": 2, "nB": 1,
       "obs": [0.04,-0.03,0.02,-0.06,0.03,0,-0.05,0.06,-0.02,0.03, -0.07,0.01,0.05,-0.03,0,0.06,-0.04,0.02,0.01,0.49, 1,0.39,0.09,0.01,-0.04,0.07,-0.02,0,-0.06,0.03, 0.04,-0.03,0.02,-0.07,0.03,0,0.05,-0.02,-0.05,0.03, 0.01],
       "fitA": [0,0,0,0,0,0,0,0,0,0, 0,0,0,0,0,0,0,0,0.04,0.45, 1,0.45,0.06,0,0,0,0,0,0,0, 0,0,0,0,0,0,0,0,0,0, 0],
       "fitB": [0,0,0,0,0,0,0,0,0,0, 0,0,0,0,0,0,0,0,0.04,0.45, 1,0.45,0.06,0,0,0,0,0,0,0, 0,0,0,0,0,0,0,0,0,0, 0]},
      {"row": 7, "col": 4, "nA": 2, "nB": 1,
       "obs": [-0.02,0.04,-0.06,0.03,0.01,-0.03,0.06,-0.04,0,0.03, -0.02,-0.07,0.04,0.04,0.09,0.45,1.05,0.89,0.63,0.28, 0.13,0.08,-0.03,-0.06,0.02,0,0.06,-0.04,0.03,-0.02, -0.03,0.07,0,-0.05,0.02,0.04,-0.06,0.03,0,-0.03, -0.02],
       "fitA": [0,0,0,0,0,0,0,0,0,0, 0,0,0,0.03,0.12,0.45,1.05,0.95,0.6,0.3, 0.12,0.04,0,0,0,0,0,0,0,0, 0,0,0,0,0,0,0,0,0,0, 0],
       "fitB": [0,0,0,0,0,0,0,0,0,0, 0,0,0,0.03,0.12,0.45,0.95,1,0.6,0.22, 0.05,0,0,0,0,0,0,0,0,0, 0,0,0,0,0,0,0,0,0,0, 0]},
      {"row": 7, "col": 5, "nA": 3, "nB": 1,
       "obs": [0.03,-0.06,0,0.04,-0.02,-0.04,0.01,0.07,-0.03,0, -0.06,0.03,0.02,-0.02,0.04,-0.05,0.2,0.98,0.18,0.04, 0.09,-0.03,0,0.04,-0.02,-0.04,0.03,0,-0.03,0.06, 0.02,-0.06,0.04,-0.02,0,0.03,-0.05,0.02,0.06,-0.03, 0],
       "fitA": [0,0,0,0,0,0,0,0,0,0, 0,0,0,0,0,0,0.2,0.95,0.25,0.02, 0.04,0,0,0,0,0,0,0,0,0, 0,0,0,0,0,0,0,0,0,0, 0],
       "fitB": [0,0,0,0,0,0,0,0,0,0, 0,0,0,0,0,0,0.2,0.95,0.25,0.02, 0,0,0,0,0,0,0,0,0,0, 0,0,0,0,0,0,0,0,0,0, 0]},
      {"row": 7, "col": 6, "nA": 3, "nB": 1,
       "obs": [-0.04,0.02,0.06,-0.03,0,-0.02,0.04,-0.06,0.03,0.01, 0,-0.05,0.07,0,0.17,0.48,0.86,0.83,0.39,0.08, -0.01,0.02,-0.04,0.06,0,-0.02,0.03,-0.07,0.02,0.04, -0.03,0,0.06,-0.02,-0.04,0.03,0.01,-0.03,0,0.04, -0.06],
       "fitA": [0,0,0,0,0,0,0,0,0,0, 0,0,0,0.03,0.15,0.5,0.92,0.8,0.35,0.08, 0.02,0,0,0,0,0,0,0,0,0, 0,0,0,0,0,0,0,0,0,0, 0],
       "fitB": [0,0,0,0,0,0,0,0,0,0, 0,0,0,0.03,0.15,0.5,0.92,0.8,0.35,0.08, 0.02,0,0,0,0,0,0,0,0,0, 0,0,0,0,0,0,0,0,0,0, 0]},
      {"row": 7, "col": 7, "nA": 1, "nB": 1,
       "obs": [0.04,-0.03,0.02,-0.06,0.03,0,-0.05,0.06,-0.02,0.03, -0.07,0.01,0.05,-0.03,0,0.06,-0.04,0.04,0.12,0.64, 1,0.49,0.15,0.03,-0.04,0.07,-0.02,0,-0.06,0.03, 0.04,-0.03,0.02,-0.07,0.03,0,0.05,-0.02,-0.05,0.03, 0.01],
       "fitA": [0,0,0,0,0,0,0,0,0,0, 0,0,0,0,0,0,0,0.02,0.15,0.6, 1,0.55,0.12,0.02,0,0,0,0,0,0, 0,0,0,0,0,0,0,0,0,0, 0],
       "fitB": [0,0,0,0,0,0,0,0,0,0, 0,0,0,0,0,0,0,0.02,0.15,0.6, 1,0.55,0.12,0.02,0,0,0,0,0,0, 0,0,0,0,0,0,0,0,0,0, 0]}
    ]
  },
  "data": {"name": "spectra"},
  "transform": [
    {"flatten": ["obs", "fitA", "fitB"]},
    {"window": [{"op": "row_number", "as": "i"}], "groupby": ["row", "col"]},
    {"lookup": "i", "from": {"data": {"name": "chan"}, "key": "i", "fields": ["v"]}}
  ],
  "title": {
    "text": "Tₐ [K]",
    "orient": "left",
    "anchor": "start",
    "fontSize": 14,
    "fontWeight": "normal",
    "color": "black",
    "offset": 6,
    "dx": 57
  },
  "bounds": "flush",
  "facet": {
    "row": {"field": "row", "type": "ordinal", "header": {"labels": false, "title": null}},
    "column": {
      "field": "col",
      "type": "ordinal",
      "header": {
        "labels": false,
        "title": "\u00a0\u2009v [km s⁻¹]",
        "titleOrient": "bottom",
        "titleAnchor": "start",
        "titleAlign": "left",
        "titleFontSize": 14,
        "titleFontWeight": "normal",
        "titleColor": "black",
        "titlePadding": 1
      }
    }
  },
  "spacing": 0,
  "spec": {
    "width": 87,
    "height": 65,
    "layer": [
      {
        "mark": {"type": "line", "color": "black", "strokeWidth": 1.8, "clip": true},
        "encoding": {
          "x": {"field": "v", "type": "quantitative",
                "scale": {"domain": [-7.14, 6.94], "nice": false, "zero": false},
                "axis": {"values": [-5, 0, 5], "title": null}},
          "y": {"field": "obs", "type": "quantitative",
                "scale": {"domain": [-0.4, 1.23], "nice": false, "zero": false},
                "axis": {"values": [0, 1], "title": null}}
        }
      },
      {
        "mark": {"type": "line", "color": "#ff0000", "strokeWidth": 1.8, "clip": true},
        "encoding": {
          "x": {"field": "v", "type": "quantitative"},
          "y": {"field": "fitA", "type": "quantitative"}
        }
      },
      {
        "mark": {"type": "line", "color": "#0000ff", "strokeWidth": 1.8, "strokeDash": [6, 3], "clip": true},
        "encoding": {
          "x": {"field": "v", "type": "quantitative"},
          "y": {"field": "fitB", "type": "quantitative"}
        }
      },
      {
        "transform": [{"filter": {"field": "i", "equal": 1}}],
        "mark": {"type": "text", "color": "#ff0000", "fontSize": 14, "align": "center", "baseline": "middle"},
        "encoding": {
          "x": {"datum": -4.3},
          "y": {"datum": 0.5},
          "text": {"field": "nA"}
        }
      },
      {
        "transform": [{"filter": {"field": "i", "equal": 1}}],
        "mark": {"type": "text", "color": "#0000ff", "fontSize": 14, "align": "center", "baseline": "middle"},
        "encoding": {
          "x": {"datum": 4.8},
          "y": {"datum": 0.5},
          "text": {"field": "nB"}
        }
      }
    ]
  },
  "config": {
    "font": "DejaVu Sans",
    "view": {"stroke": "black", "strokeWidth": 1.1},
    "axis": {
      "domain": false,
      "grid": false,
      "ticks": true,
      "tickColor": "black",
      "tickSize": 5,
      "tickWidth": 1.1,
      "labelFont": "DejaVu Sans",
      "labelFontSize": 14,
      "labelColor": "black",
      "labelOverlap": false,
      "labelFlush": false
    },
    "axisX": {"labelPadding": 0},
    "axisY": {"labelPadding": 5}
  }
}
